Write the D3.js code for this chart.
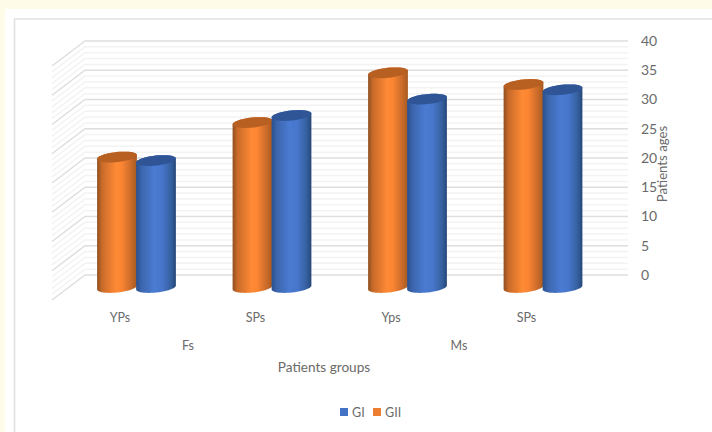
<!DOCTYPE html>
<html>
<head>
<meta charset="utf-8">
<script src="https://cdn.jsdelivr.net/npm/d3@7"></script>
<style>
html,body{margin:0;padding:0;background:#fff}
svg{display:block}
text{font-family:Lato,"Open Sans",sans-serif;fill:#6a6a6a}
</style>
</head>
<body>
<svg id="chart" width="712" height="432"></svg>
<script>
// Mean patient age per subgroup, split by sex group
const subgroups = ["YPs", "SPs", "Yps", "SPs "];
const subgroupLabels = ["YPs", "SPs", "Yps", "SPs"];
const sexGroups = ["Fs", "Ms"];
const seriesNames = ["GII", "GI"];
const valuesGII = [22.3, 28.2, 36.7, 34.7];
const valuesGI = [21.7, 29.4, 32.2, 33.8];
const ageTicks = d3.range(0, 41, 5);
const minorTicks = d3.range(0, 41, 1).filter(v => v % 5 !== 0);

const seriesColors = {GI: ["#4472c4", "#2f5597"], GII: ["#ed7d31", "#b85f22"]};
const legendOrder = ["GI", "GII"];

const svg = d3.select("#chart");

// Page furniture: cream strip, then the card's thin outline
svg.append("rect").attr("width", 712).attr("height", 9).attr("fill", "#fffbe9");
svg.append("rect").attr("width", 5).attr("height", 432).attr("fill", "#fffbe9");
svg.append("path").attr("d", "M14.5,432V19H712").attr("fill", "none")
  .attr("stroke", "#e2e2e2").attr("stroke-width", 1.6);

// Scales: value axis on the back wall, band scale along the floor
const y = d3.scaleLinear().domain([0, 40]).range([275, 41]);
const x = d3.scaleBand().domain(subgroups).range([69.25, 611.25]);
const inner = d3.scaleBand().domain(seriesNames).range([-39.5, 38.5]);

const wallLeft = 85, wallRight = 628, sideDx = -33, sideDy = 25;
const barDepth = 12.5, rx = inner.bandwidth() / 2 + 0.5, ry = 5;
const tilt = -6 * Math.PI / 180;

// Gridlines on the back and side walls
function wallLines(vals, color, width) {
  const g = svg.append("g").attr("fill", "none").attr("stroke", color).attr("stroke-width", width);
  g.selectAll("path").data(vals).join("path")
    .attr("d", v => `M${wallLeft + sideDx},${y(v) + sideDy}L${wallLeft},${y(v)}H${wallRight}`);
}
wallLines(minorTicks, "#f3f3f3", 1.5);
wallLines(ageTicks, "#dedede", 1.5);

// Horizontal shading across each cylinder
const defs = svg.append("defs");
function bodyGradient(id, stops) {
  const grad = defs.append("linearGradient").attr("id", id);
  grad.selectAll("stop").data(stops).join("stop")
    .attr("offset", d => d[0]).attr("stop-color", d => d[1]);
}
bodyGradient("bodyGII", [[0, "#8f4f1f"], [0.12, "#c86a2a"], [0.48, "#ff8a35"], [0.62, "#fb8532"], [0.86, "#c96a2a"], [1, "#a85a20"]]);
bodyGradient("bodyGI", [[0, "#2b4f8c"], [0.14, "#3c66ae"], [0.45, "#4a7bd2"], [0.65, "#4776cb"], [0.88, "#35609f"], [1, "#264778"]]);

// Point on a tilted ellipse centred at (0, cy), with t in radians
function rim(cy, t) {
  const ex = rx * Math.cos(t), ey = ry * Math.sin(t);
  return [ex * Math.cos(tilt) - ey * Math.sin(tilt), cy + ex * Math.sin(tilt) + ey * Math.cos(tilt)];
}
const halfTurn = d3.range(0, 25).map(i => i / 24 * Math.PI);
const outline = d3.line();

// Cylinders: GII behind, GI overlapping it on the right
const rows = subgroups.flatMap((s, i) => [
  {sub: s, name: "GII", value: valuesGII[i]},
  {sub: s, name: "GI", value: valuesGI[i]}
]);
const baseY = y(0) + barDepth;
const bars = svg.append("g").selectAll("g").data(rows).join("g")
  .attr("transform", d => `translate(${x(d.sub) + x.bandwidth() / 2 + inner(d.name) + inner.bandwidth() / 2},0)`);

bars.append("path")
  .attr("fill", d => `url(#body${d.name})`)
  .attr("d", d => {
    const topY = y(d.value) + barDepth;
    // front of the base from right to left, then back across the top rim
    const lower = halfTurn.map(t => rim(baseY, t));
    const upper = halfTurn.map(t => rim(topY, Math.PI + t));
    return outline(lower.concat(upper)) + "Z";
  });
bars.append("path")
  .attr("fill", d => seriesColors[d.name][1])
  .attr("d", d => {
    const topY = y(d.value) + barDepth;
    return outline(halfTurn.concat(halfTurn.map(t => t + Math.PI)).map(t => rim(topY, t))) + "Z";
  });

// Value axis, right of the back wall
const axis = d3.axisRight(y).tickValues(ageTicks).tickSize(0).tickPadding(0);
const axisG = svg.append("g").attr("transform", "translate(641,0)").call(axis);
axisG.select(".domain").remove();
axisG.selectAll("text").attr("font-size", 14).attr("font-family", "Lato").attr("fill", "#6a6a6a");

svg.append("text").attr("transform", "translate(667,164) rotate(-90)")
  .attr("text-anchor", "middle").attr("font-size", 13.2).text("Patients ages");

// Two-level category labels under the floor
svg.append("g").selectAll("text").data(subgroups).join("text")
  .attr("x", d => x(d) + x.bandwidth() / 2 - 17).attr("y", 322)
  .attr("text-anchor", "middle").attr("font-size", 12.5)
  .text((d, i) => subgroupLabels[i]);

const sexCenters = d3.scalePoint().domain(sexGroups).range([188, 459]);
svg.append("g").selectAll("text").data(sexGroups).join("text")
  .attr("x", d => sexCenters(d)).attr("y", 350)
  .attr("text-anchor", "middle").attr("font-size", 12.5).text(d => d);

svg.append("text").attr("x", 324).attr("y", 372).attr("text-anchor", "middle")
  .attr("font-size", 13.6).text("Patients groups");

// Legend
const legendX = d3.scaleOrdinal().domain(legendOrder).range([340, 373]);
const legend = svg.append("g").selectAll("g").data(legendOrder).join("g")
  .attr("transform", d => `translate(${legendX(d)},408)`);
legend.append("rect").attr("width", 8).attr("height", 8).attr("fill", d => seriesColors[d][0]);
legend.append("text").attr("x", 12).attr("y", 8.5).attr("font-size", 12.5).text(d => d);
</script>
</body>
</html>
